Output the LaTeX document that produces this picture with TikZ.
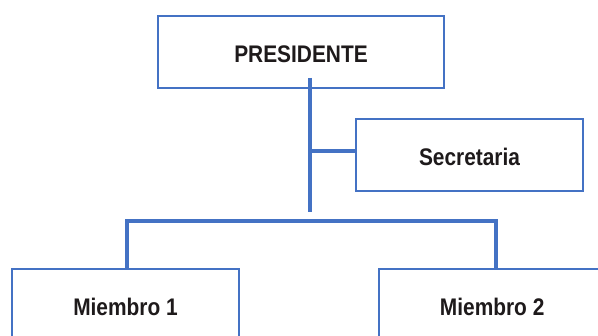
\documentclass[tikz,border=0pt]{standalone}
\usepackage{fontspec}
\setmainfont{Liberation Sans}[FakeStretch=0.87]
\definecolor{boxblue}{HTML}{4472C4}
\definecolor{txt}{HTML}{1E1A1B}
\tikzset{
  orgbox/.style={draw=boxblue, line width=2pt, fill=white, rectangle, inner sep=0pt,
    minimum height=72pt, text height=21pt, text depth=0pt, text=txt,
    font=\fontsize{24}{28}\selectfont\bfseries},
  link/.style={draw=boxblue, line width=4pt, line join=miter}
}
\begin{document}
\begin{tikzpicture}[x=1pt,y=-1pt]
\useasboundingbox (0,0) rectangle (598,336);
\clip (0,0) rectangle (598,336);
\fill[white] (0,0) rectangle (598,336);
% boxes
\node[orgbox, minimum width=286pt] (pres) at (301,51.7) {PRESIDENTE};
\node[orgbox, minimum width=227pt] (sec) at (469.5,155.5) {Secretaria};
\node[orgbox, minimum width=227pt] (m1) at (125.5,304.7) {Miembro 1};
\node[orgbox, minimum width=227pt] (m2) at (492.2,304.7) {Miembro 2};
% connector points
\coordinate (top) at (309.7,78);
\coordinate (bot) at (309.7,211.7);
\coordinate (sj) at (309.7,151);
\coordinate (bL) at (127,220.7);
\coordinate (bR) at (495.7,220.7);
% connectors
\draw[link] (top) -- (bot);
\draw[link] (sj) -- (sec.west |- sj);
\draw[link] (m1.north -| bL) -- (bL) -- (bR) -- (m2.north -| bR);
\end{tikzpicture}
\end{document}
